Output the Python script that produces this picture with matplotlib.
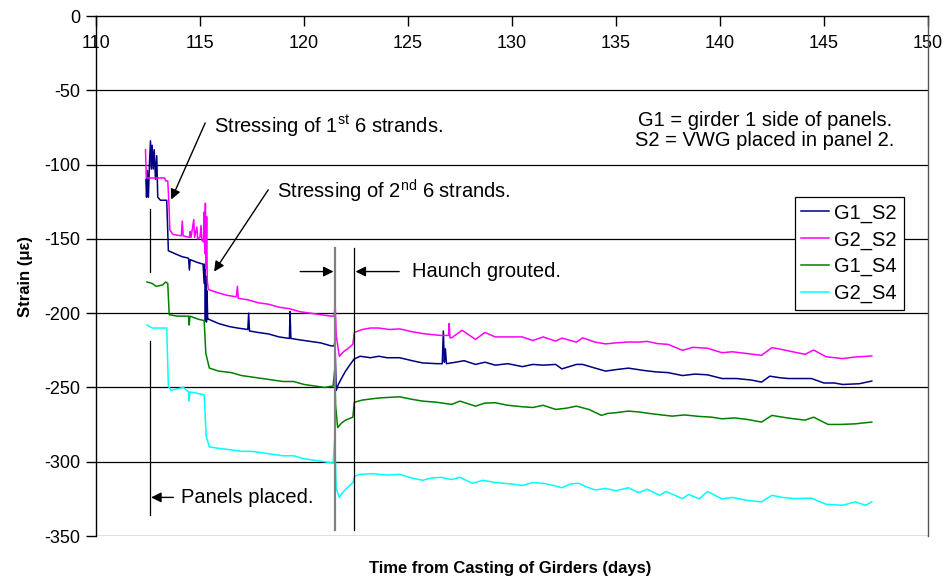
import matplotlib
matplotlib.use("Agg")
import matplotlib.pyplot as plt

plt.rcParams['font.family'] = ['Liberation Sans', 'DejaVu Sans']
plt.rcParams['mathtext.fontset'] = 'custom'
plt.rcParams['mathtext.rm'] = 'Liberation Sans'
plt.rcParams['mathtext.it'] = 'Liberation Sans:italic'
plt.rcParams['mathtext.bf'] = 'Liberation Sans:bold'
plt.rcParams['axes.unicode_minus'] = False

# ---- data: time from casting (days) and strain (microstrain) ----
t_g1s2 = [112.40, 112.43, 112.47, 112.52, 112.57, 112.62, 112.66, 112.70, 112.75, 112.80,
          112.86, 112.92, 112.97, 113.10, 113.40, 113.48, 113.80, 114.14, 114.45, 114.49,
          114.53, 114.90, 115.15, 115.20, 115.23, 115.26, 115.28, 115.31, 115.34, 115.37,
          115.40, 115.90, 116.40, 116.80, 117.30, 117.34, 117.38, 117.80, 118.30, 118.80,
          119.30, 119.33, 119.37, 119.80, 120.30, 120.80, 121.30, 121.45, 121.49, 121.55,
          121.65, 121.80, 122.00, 122.20, 122.40, 122.70, 123.20, 123.60, 124.00, 124.60,
          125.20, 125.70, 126.40, 126.65, 126.70, 126.75, 126.80, 126.85, 127.30, 127.70,
          128.25, 128.70, 129.20, 129.80, 130.50, 131.00, 131.50, 132.10, 132.40, 133.10,
          133.40, 134.00, 134.50, 135.00, 135.60, 136.30, 136.90, 137.50, 138.20, 138.80,
          139.40, 140.10, 140.80, 141.50, 142.00, 142.40, 142.90, 143.30, 144.40, 145.00,
          145.50, 145.90, 146.70, 147.30]
v_g1s2 = [-110, -122, -104, -122, -99, -84, -103, -87, -103, -90,
          -110, -94, -122, -124, -124, -158, -160, -162, -163, -171,
          -164, -166, -167, -180, -167, -205, -175, -206, -185, -204,
          -204, -207, -209, -210, -211, -200, -212, -213, -214, -216,
          -217, -199, -217, -218, -219, -220, -222, -222, -219, -252,
          -248, -244, -239, -235, -231, -229, -230, -229, -230, -230,
          -232, -233.5, -234, -234, -212, -233, -224, -234, -233, -232,
          -234.5, -233, -235, -234, -236, -234.5, -235, -234.5, -237.5, -234.5,
          -234.5, -237, -239, -238, -237, -238.5, -239.5, -240, -242, -241,
          -241.5, -244, -244, -245, -246.4, -242.4, -243.5, -244, -244, -247,
          -247, -248, -247.5, -245.7]

t_g2s2 = [112.38, 112.42, 113.30, 113.35, 113.45, 113.50, 113.55, 113.70, 114.10, 114.15,
          114.19, 114.50, 114.53, 114.57, 114.70, 114.74, 114.85, 114.89, 115.00, 115.05,
          115.09, 115.17, 115.20, 115.23, 115.26, 115.29, 115.32, 115.35, 115.40, 115.80,
          116.30, 116.75, 116.80, 116.84, 117.30, 117.80, 118.30, 118.80, 119.30, 119.80,
          120.30, 120.80, 121.30, 121.45, 121.50, 121.55, 121.70, 121.90, 122.10, 122.35,
          122.42, 122.80, 123.20, 123.60, 124.10, 124.60, 125.20, 125.70, 126.20, 126.60,
          126.95, 126.98, 127.02, 127.10, 127.60, 128.25, 128.70, 129.20, 129.80, 130.50,
          131.00, 131.50, 132.10, 132.40, 133.10, 133.40, 134.00, 134.50, 135.00, 135.60,
          136.10, 136.50, 137.00, 137.50, 138.20, 138.70, 139.40, 140.10, 140.60, 141.20,
          142.00, 142.50, 143.00, 143.50, 144.10, 144.50, 145.10, 145.90, 146.50, 147.30]
v_g2s2 = [-90, -109, -109, -111, -111, -124, -144, -147, -148, -138,
          -148, -149, -145, -149, -137, -149, -142, -150, -149, -141,
          -151, -152, -132, -160, -126, -170, -135, -178, -184, -186,
          -188, -189, -182, -190, -191, -193, -194, -196, -197, -199,
          -200, -201, -202, -202, -194, -215, -229, -226, -224, -221,
          -213, -211, -210, -210, -211, -210.6, -212.5, -213.7, -214.5, -215,
          -215, -207, -216.6, -216.6, -211.5, -217.7, -213, -216, -216, -216,
          -218.4, -216, -218.8, -216.8, -219.5, -216.6, -219.5, -220.7, -220, -219.4,
          -219.5, -219, -220.5, -221, -225, -223, -223.6, -226.6, -226, -227,
          -228.4, -223.2, -224.5, -226, -227.7, -224.8, -229.3, -230.6, -229.5, -228.8]

t_g1s4 = [112.45, 112.70, 112.90, 113.20, 113.35, 113.45, 113.52, 113.90, 114.30, 114.45,
          114.48, 114.52, 114.90, 115.20, 115.28, 115.45, 115.90, 116.50, 117.00, 117.50,
          118.00, 118.50, 119.00, 119.50, 120.00, 120.50, 121.00, 121.40, 121.48, 121.52,
          121.62, 121.80, 122.00, 122.35, 122.42, 122.80, 123.30, 123.70, 124.60, 125.20,
          125.70, 126.40, 127.10, 127.50, 128.25, 128.70, 129.20, 129.80, 130.50, 131.00,
          131.50, 132.10, 132.60, 133.10, 133.70, 134.30, 134.60, 135.00, 135.60, 136.10,
          136.60, 137.20, 137.70, 138.30, 139.00, 139.60, 140.10, 140.70, 141.30, 142.00,
          142.50, 143.00, 143.50, 144.10, 144.50, 145.20, 145.80, 146.50, 147.30]
v_g1s4 = [-179, -180, -182, -181, -179, -180, -201, -202, -202, -202,
          -208, -202, -204, -205, -227, -237, -239, -240, -242, -243,
          -244, -245, -246, -246, -248, -249, -250, -249, -238, -262,
          -277, -274, -272, -270, -260, -258.5, -257.6, -257, -256.3, -258,
          -259.2, -260, -261.4, -259.2, -262.6, -260.5, -260.3, -262, -263, -263.5,
          -262, -264.8, -264, -262.6, -264.8, -268.8, -267.5, -267, -265.9, -266.5,
          -267.5, -268.5, -269.3, -268.5, -269.5, -270, -271.1, -270.5, -271.5, -273.3,
          -268.8, -270, -271, -272, -270, -274.9, -274.9, -274.5, -273.3]

t_g2s4 = [112.45, 112.70, 113.00, 113.40, 113.48, 113.60, 113.90, 114.20, 114.45, 114.48,
          114.52, 114.90, 115.20, 115.30, 115.45, 115.90, 116.50, 117.00, 117.50, 118.00,
          118.50, 119.00, 119.50, 120.00, 120.50, 121.00, 121.40, 121.48, 121.55, 121.70,
          121.90, 122.20, 122.35, 122.45, 122.70, 123.30, 124.00, 124.60, 125.20, 125.70,
          126.10, 126.60, 127.10, 127.50, 128.10, 128.60, 129.20, 130.00, 130.50, 131.00,
          131.50, 132.00, 132.40, 132.80, 133.20, 133.60, 134.00, 134.50, 135.00, 135.60,
          136.10, 136.50, 137.10, 137.40, 138.20, 138.50, 139.00, 139.40, 140.10, 140.60,
          141.30, 142.00, 142.50, 143.00, 143.60, 144.40, 145.10, 145.90, 146.50, 147.00,
          147.30]
v_g2s4 = [-208, -210, -210, -210, -249, -252, -251, -250, -253, -259,
          -253, -254, -255, -283, -290, -291, -292, -293, -293, -294,
          -295, -296, -296, -298, -299, -300, -301, -284, -318, -324,
          -320, -316, -314, -309.6, -308.5, -308, -309, -308.5, -311, -312.5,
          -311, -310.5, -312, -310.5, -314.5, -312.5, -314, -315, -316, -314,
          -314.5, -316, -317.5, -315, -314.5, -317, -319, -318, -319.5, -317.5,
          -320.8, -318.5, -322.6, -320, -324.8, -322, -325, -320, -325, -324,
          -326, -327, -322.6, -324, -324.8, -324.5, -328.6, -329.3, -327, -329.3,
          -327]

series_names = ['G1_S2', 'G2_S2', 'G1_S4', 'G2_S4']
series_colors = ['#000080', '#FF00FF', '#008000', '#00FFFF']

x_ticks = [110, 115, 120, 125, 130, 135, 140, 145, 150]
y_ticks = [0, -50, -100, -150, -200, -250, -300, -350]

fig = plt.figure(figsize=(9.43, 5.82), dpi=100)
ax = fig.add_axes([0.1018, 0.079, 0.8822, 0.8935])

ax.set_xlim(110, 150)
ax.set_ylim(-350, 0)
ax.set_xticks(x_ticks)
ax.set_yticks(y_ticks)

# horizontal gridlines, including the bottom frame line at -350
for yv in y_ticks[1:]:
    ax.axhline(yv, color='black', lw=0.9, zorder=1)

all_t = [t_g1s2, t_g2s2, t_g1s4, t_g2s4]
all_v = [v_g1s2, v_g2s2, v_g1s4, v_g2s4]
for tt, vv, name, col in zip(all_t, all_v, series_names, series_colors):
    ax.plot(tt, vv, color=col, lw=1.1, label=name, zorder=3)

# x axis drawn along strain = 0 at the top of the plot area
ax.spines['bottom'].set_position(('data', 0))
ax.spines['top'].set_visible(False)
ax.spines['right'].set_color('#555555')
ax.spines['left'].set_color('black')
ax.spines['bottom'].set_color('black')
for s in ['left', 'bottom', 'right']:
    ax.spines[s].set_linewidth(1.0)

ax.tick_params(axis='x', direction='out', length=7, width=1, pad=7, labelsize=13)
ax.tick_params(axis='y', direction='out', length=7, width=1, pad=4, labelsize=13)

ax.set_ylabel('Strain (\u03bc\u03b5)', fontsize=12, fontweight='bold')
ax.yaxis.set_label_coords(-0.076, 0.5)
fig.text(0.541, 0.024, 'Time from Casting of Girders (days)', ha='center',
         va='center', fontsize=12, fontweight='bold')

# event markers
ax.plot([112.6, 112.6], [-130, -172], color='black', lw=0.9, zorder=2)
ax.plot([112.6, 112.6], [-219, -336], color='black', lw=0.9, zorder=2)
ax.plot([121.5, 121.5], [-156, -346], color='#808080', lw=1.6, zorder=4)
ax.plot([122.42, 122.42], [-156, -346], color='black', lw=0.9, zorder=4)

arrow = dict(arrowstyle='-|>', color='black', lw=1.0, mutation_scale=15,
             shrinkA=0, shrinkB=0)
ax.annotate('', xy=(113.62, -123.5), xytext=(115.25, -72), arrowprops=arrow)
ax.annotate('', xy=(115.68, -172), xytext=(118.28, -117), arrowprops=arrow)
ax.annotate('', xy=(121.42, -172), xytext=(119.82, -172), arrowprops=arrow)
ax.annotate('', xy=(122.48, -172), xytext=(124.58, -172), arrowprops=arrow)
ax.annotate('', xy=(112.65, -324), xytext=(113.72, -324), arrowprops=arrow)

fs = 14.5
ax.text(115.68, -74, 'Stressing of 1$^{\\mathrm{st}}$ 6 strands.', fontsize=fs,
        va='center', ha='left')
ax.text(118.71, -118, 'Stressing of 2$^{\\mathrm{nd}}$ 6 strands.', fontsize=fs,
        va='center', ha='left')
ax.text(125.2, -172, 'Haunch grouted.', fontsize=fs, va='center', ha='left')
ax.text(114.1, -324, 'Panels placed.', fontsize=fs, va='center', ha='left')
ax.text(142.15, -77, 'G1 = girder 1 side of panels.\nS2 = VWG placed in panel 2.',
        fontsize=fs, va='center', ha='center', multialignment='center',
        linespacing=1.05)

leg = ax.legend(loc='upper left', bbox_to_anchor=(0.84, 0.652), fontsize=fs,
                frameon=True, fancybox=False, shadow=False, handlelength=1.4,
                handletextpad=0.25, borderpad=0.32, labelspacing=0.38,
                borderaxespad=0)
leg.get_frame().set_edgecolor('black')
leg.get_frame().set_linewidth(0.9)
leg.get_frame().set_alpha(1)
leg.set_zorder(5)

fig.savefig('out.png', dpi=100)
